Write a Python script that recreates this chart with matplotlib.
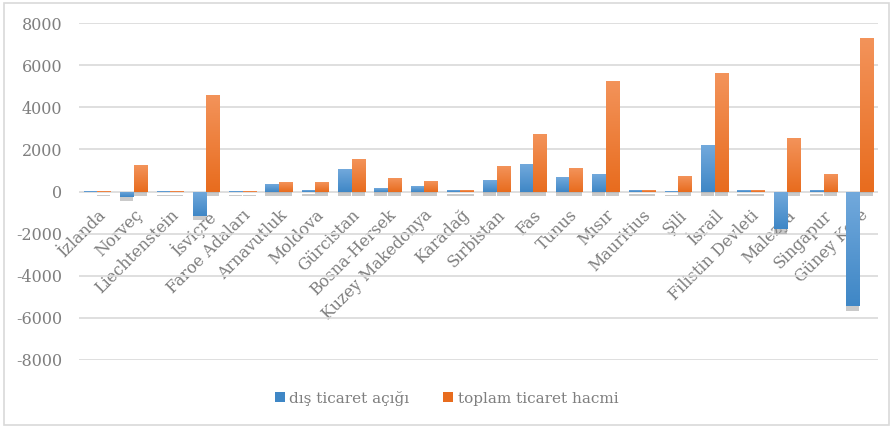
import numpy as np
import matplotlib
matplotlib.use('Agg')
import matplotlib.pyplot as plt
from matplotlib.patches import Rectangle
from matplotlib import patheffects as pe

#chart data
countries = ['İzlanda', 'Norveç', 'Liechtenstein', 'İsviçre', 'Faroe Adaları',
             'Arnavutluk', 'Moldova', 'Gürcistan', 'Bosna-Hersek', 'Kuzey Makedonya',
             'Karadağ', 'Sırbistan', 'Fas', 'Tunus', 'Mısır', 'Mauritius', 'Şili',
             'İsrail', 'Filistin Devleti', 'Malezya', 'Singapur', 'Güney Kore']
dis_ticaret_acigi = [5, -270, 40, -1150, 40, 370, 80, 1080, 180, 280,
                     60, 570, 1290, 700, 840, 60, 20, 2190, 60, -1800, 60, -5460]
toplam_ticaret_hacmi = [40, 1280, 40, 4570, 40, 430, 430, 1560, 660, 520,
                        60, 1190, 2710, 1100, 5240, 60, 760, 5620, 60, 2520, 810, 7280]
y_ticks = [-8000, -6000, -4000, -2000, 0, 2000, 4000, 6000, 8000]
series_names = ['dış ticaret açığı', 'toplam ticaret hacmi']

plt.rcParams['font.family'] = ['DejaVu Serif']
text_color = '#7f7f7f'

fig = plt.figure(figsize=(8.93, 4.28), dpi=100)
ax = fig.add_axes([0.0885, 0.159, 0.8945, 0.787])

x = np.arange(len(countries))
w = 0.36

def gradient_bars(xpos, vals, light, dark, label):
    #bars with a soft shadow, then a vertical gradient clipped to each bar
    bars = ax.bar(xpos, vals, w, color=dark, label=label, zorder=3,
                  path_effects=[pe.SimplePatchShadow(offset=(0, -3), shadow_rgbFace='#8a8a8a', alpha=0.45),
                                pe.Normal()])
    grad = np.linspace(0, 1, 100).reshape(-1, 1)
    cmap = matplotlib.colors.LinearSegmentedColormap.from_list('g', [light, dark])
    for b in bars:
        x0, y0 = b.get_x(), b.get_y()
        bw, bh = b.get_width(), b.get_height()
        lo, hi = min(y0, y0 + bh), max(y0, y0 + bh)
        if hi - lo <= 0:
            continue
        im = ax.imshow(grad, extent=[x0, x0 + bw, lo, hi], origin='upper', aspect='auto',
                       cmap=cmap, zorder=3.5)
        im.set_clip_path(b)
    return bars

gradient_bars(x - 0.185, dis_ticaret_acigi, '#72a9dc', '#3f87c6', series_names[0])
gradient_bars(x + 0.185, toplam_ticaret_hacmi, '#f3935a', '#e86c1e', series_names[1])

ax.set_xlim(-0.5, len(countries) - 0.5)
ax.set_ylim(-8000, 8000)
ax.set_yticks(y_ticks)
ax.set_yticklabels([str(v) for v in y_ticks])
ax.yaxis.grid(True, color='#d9d9d9', linewidth=1.2, zorder=0)
ax.set_axisbelow(True)

#category labels sit just under the zero line
ax.spines['bottom'].set_position(('data', 0))
for s in ['top', 'right', 'left', 'bottom']:
    ax.spines[s].set_visible(False)
ax.set_xticks(x)
ax.set_xticklabels(countries, rotation=45, ha='right', va='top', rotation_mode='anchor')
ax.tick_params(axis='x', length=0, pad=11, labelsize=11.5, labelcolor=text_color)
ax.tick_params(axis='y', length=0, pad=12, labelsize=11.5, labelcolor=text_color)
for t in ax.get_xticklabels():
    t.set_zorder(5)

leg = fig.legend(loc='center', bbox_to_anchor=(0.5, 0.07), ncol=2, frameon=False,
                 fontsize=11, handlelength=0.65, handleheight=0.65, handletextpad=0.3,
                 columnspacing=2.2, labelcolor=text_color)
for h in leg.legend_handles:
    h.set_path_effects([])

fig.patches.append(Rectangle((0.004, 0.006), 0.992, 0.988, transform=fig.transFigure,
                             fill=False, edgecolor='#d9d9d9', linewidth=1.2))

fig.savefig('out.png', dpi=100)
